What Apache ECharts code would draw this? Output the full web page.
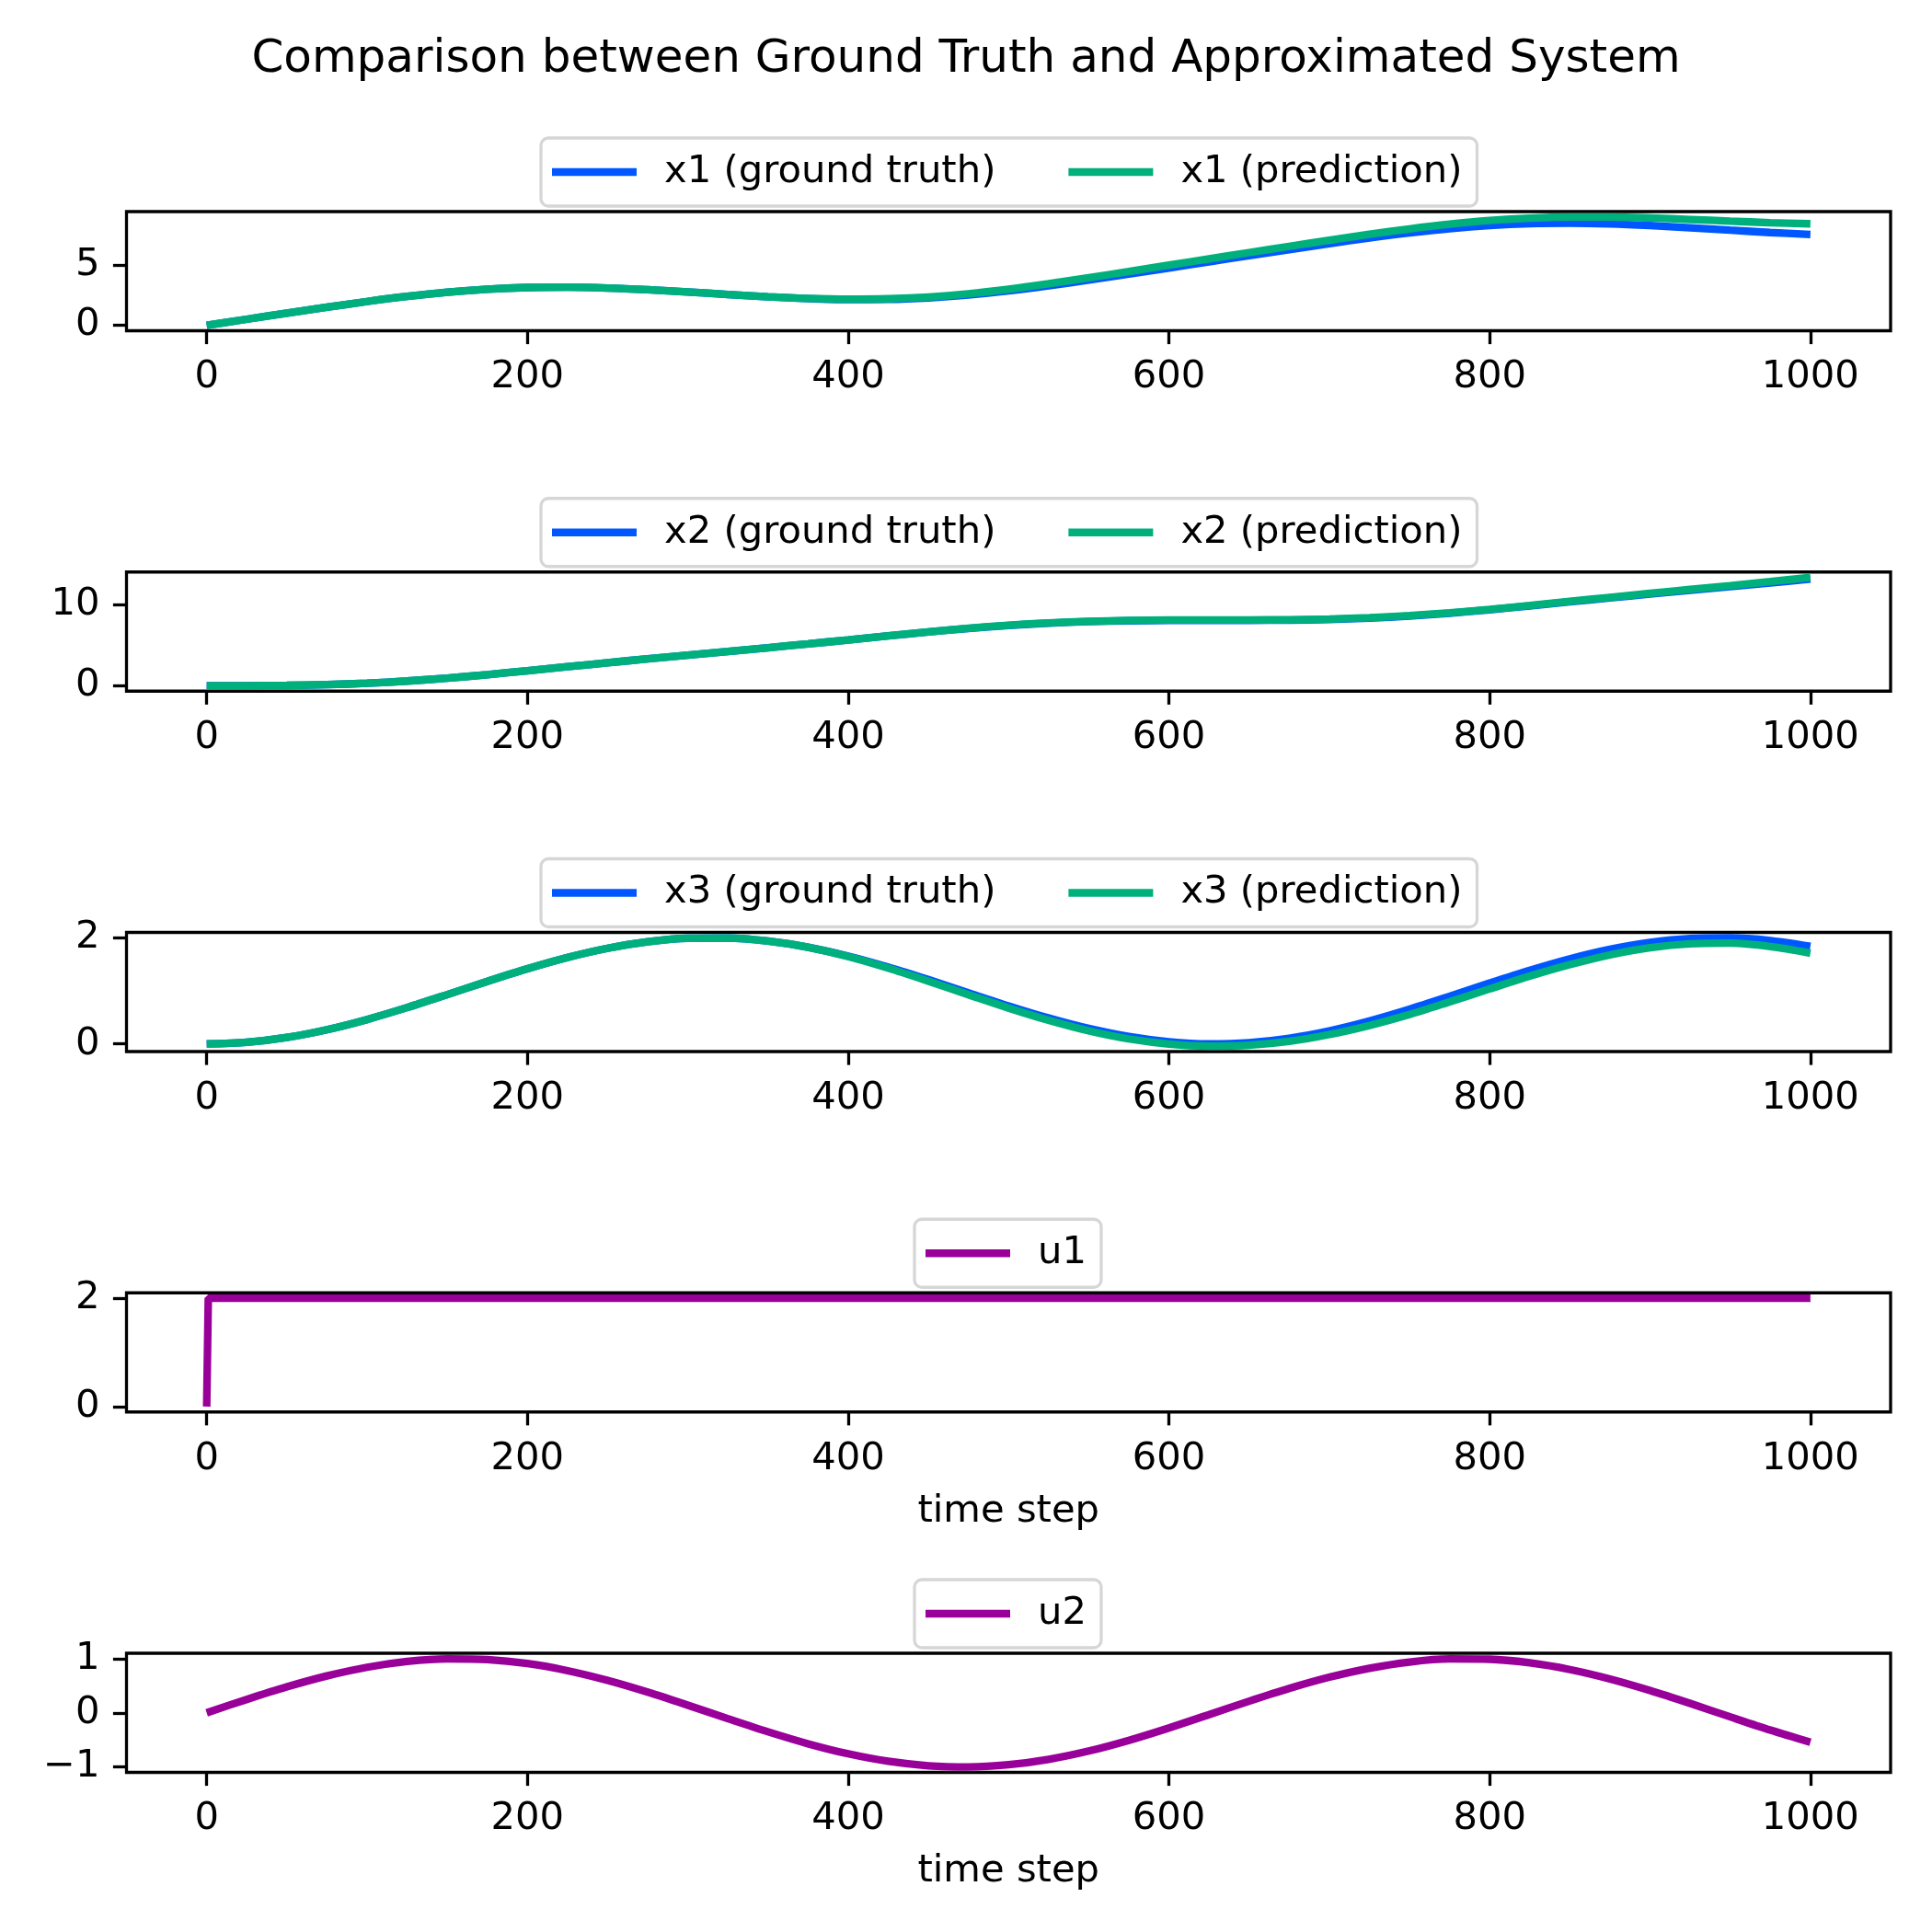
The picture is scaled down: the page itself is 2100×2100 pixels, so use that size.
<!DOCTYPE html>
<html>
<head>
    <meta charset="utf-8">
    <title>Comparison between Ground Truth and Approximated System</title>
    <script src="https://cdn.jsdelivr.net/npm/echarts@6/dist/echarts.min.js"></script>
    <style>
        body { margin: 0; background: #fff; }
    </style>
</head>
<body>
<div id="main" style="width: 2100px;height:2100px;"></div>
<script type="text/javascript">
    // time steps shared by the state curves and u2
    const steps = [0, 25, 50, 75, 100, 125, 150, 175, 200, 225, 250, 275, 300, 325, 350, 375, 400,
        425, 450, 475, 500, 525, 550, 575, 600, 625, 650, 675, 700, 725, 750, 775, 800,
        825, 850, 875, 900, 925, 950, 975, 1000];

    const x1Truth = [0, 0.504, 1.006, 1.500, 1.971, 2.395, 2.744, 2.993, 3.132, 3.158, 3.089,
        2.946, 2.760, 2.557, 2.366, 2.216, 2.135, 2.150, 2.273, 2.511, 2.849,
        3.270, 3.743, 4.241, 4.749, 5.259, 5.769, 6.273, 6.770, 7.237, 7.660,
        8.011, 8.267, 8.416, 8.453, 8.396, 8.263, 8.082, 7.881, 7.688, 7.532];
    const x1Pred = [0, 0.504, 1.006, 1.500, 1.971, 2.395, 2.744, 2.993, 3.132, 3.158, 3.089,
        2.946, 2.760, 2.557, 2.366, 2.226, 2.165, 2.200, 2.343, 2.611, 2.989,
        3.440, 3.943, 4.461, 4.989, 5.509, 6.029, 6.543, 7.050, 7.537, 7.990,
        8.381, 8.687, 8.886, 8.973, 8.971, 8.893, 8.772, 8.631, 8.503, 8.412];

    const x2Truth = [0, 0.005, 0.041, 0.136, 0.312, 0.582, 0.941, 1.375, 1.855, 2.353, 2.848,
        3.325, 3.788, 4.243, 4.704, 5.180, 5.671, 6.171, 6.655, 7.096, 7.467,
        7.748, 7.937, 8.041, 8.084, 8.091, 8.095, 8.125, 8.210, 8.375, 8.631,
        8.980, 9.405, 9.881, 10.379, 10.874, 11.355, 11.818, 12.274, 12.733, 13.206];
    const x2Pred = [0, 0.005, 0.041, 0.136, 0.312, 0.582, 0.941, 1.375, 1.855, 2.353, 2.848,
        3.325, 3.788, 4.243, 4.704, 5.180, 5.671, 6.171, 6.665, 7.111, 7.492,
        7.783, 7.977, 8.086, 8.134, 8.141, 8.145, 8.175, 8.260, 8.425, 8.681,
        9.030, 9.455, 9.936, 10.439, 10.944, 11.435, 11.918, 12.394, 12.893, 13.406];

    const x3Truth = [0, 0.031, 0.122, 0.268, 0.460, 0.685, 0.929, 1.178, 1.416, 1.628, 1.801,
        1.924, 1.990, 1.994, 1.936, 1.821, 1.654, 1.446, 1.211, 0.962, 0.716,
        0.488, 0.291, 0.139, 0.040, 0.000, 0.023, 0.107, 0.246, 0.432, 0.653,
        0.896, 1.146, 1.386, 1.602, 1.781, 1.911, 1.985, 1.997, 1.948, 1.839];
    const x3Pred = [0, 0.031, 0.122, 0.268, 0.460, 0.685, 0.929, 1.178, 1.416, 1.628, 1.801,
        1.924, 1.990, 1.994, 1.936, 1.821, 1.644, 1.426, 1.181, 0.927, 0.676,
        0.445, 0.246, 0.094, -0.003, -0.042, -0.025, 0.047, 0.176, 0.347, 0.553,
        0.791, 1.036, 1.276, 1.492, 1.676, 1.811, 1.885, 1.897, 1.833, 1.709];

    const u1Steps = [0, 1, 1000];
    const u1 = [0, 2, 2];

    const u2 = [0, 0.2474, 0.4794, 0.6816, 0.8415, 0.9490, 0.9975, 0.9840, 0.9093, 0.7781, 0.5985,
        0.3817, 0.1411, -0.1082, -0.3508, -0.5716, -0.7568, -0.8950, -0.9775, -0.9993, -0.9589,
        -0.8589, -0.7055, -0.5083, -0.2794, -0.0332, 0.2151, 0.4500, 0.6570, 0.8231, 0.9380,
        0.9946, 0.9894, 0.9226, 0.7985, 0.6247, 0.4121, 0.1743, -0.0752, -0.3195, -0.5440];

    const xTicks = [0, 200, 400, 600, 800, 1000];
    const yTicks = [[0, 5], [0, 10], [0, 2], [0, 2], [-1, 0, 1]];
    const yLimits = [[-0.449, 9.422], [-0.67, 14.08], [-0.144, 2.10], [-0.1, 2.1], [-1.1, 1.1]];

    const BLUE = '#0057ff';
    const GREEN = '#00b07c';
    const PURPLE = '#990099';
    const FONT = 'DejaVu Sans';
    const FS = 41.7;

    const tops = [230, 621.75, 1013.5, 1405.25, 1797];
    const legendLeft = [588, 588, 588, 994, 994];
    const legendNames = [
        ['x1 (ground truth)', 'x1 (prediction)'],
        ['x2 (ground truth)', 'x2 (prediction)'],
        ['x3 (ground truth)', 'x3 (prediction)'],
        ['u1'],
        ['u2']
    ];

    function pairs(ts, vs) {
        return ts.map(function (t, i) { return [t, vs[i]]; });
    }

    function minus(v) {
        return v < 0 ? '\u2212' + Math.abs(v) : String(v);
    }

    const grids = [], xAxes = [], yAxes = [], legends = [];
    for (let i = 0; i < 5; i++) {
        grids.push({
            left: 137.5, right: 45, top: tops[i], height: 129.5,
            outerBoundsMode: 'none', containLabel: false,
            show: true, borderColor: '#000', borderWidth: 3.3, backgroundColor: 'transparent'
        });
        xAxes.push({
            type: 'value', gridIndex: i, min: -50, max: 1050,
            name: i >= 3 ? 'time step' : '',
            nameLocation: 'middle', nameGap: 87,
            nameTextStyle: {fontSize: FS, color: '#000', fontFamily: FONT},
            axisLine: {show: false, onZero: false},
            axisTick: {customValues: xTicks, length: 14.6, lineStyle: {color: '#000', width: 3.3}},
            axisLabel: {customValues: xTicks, margin: 30, fontSize: FS, color: '#000', fontFamily: FONT,
                formatter: function (v) { return String(v); }},
            splitLine: {show: false}
        });
        yAxes.push({
            type: 'value', gridIndex: i, min: yLimits[i][0], max: yLimits[i][1],
            axisLine: {show: false, onZero: false},
            axisTick: {customValues: yTicks[i], length: 14.6, lineStyle: {color: '#000', width: 3.3}},
            axisLabel: {customValues: yTicks[i], margin: 29, fontSize: FS, color: '#000',
                fontFamily: FONT, formatter: minus, lineHeight: 42, padding: [8, 0, 0, 0]},
            splitLine: {show: false}
        });
        legends.push({
            data: legendNames[i], left: legendLeft[i], top: tops[i] - 80,
            orient: 'horizontal', icon: 'rect', itemWidth: 92, itemHeight: 8.3, itemGap: 79,
            padding: [16, 16, 16, 12], backgroundColor: '#fff',
            borderColor: '#d6d6d6', borderWidth: 3.3, borderRadius: 8,
            selectedMode: false,
            textStyle: {fontSize: FS, color: '#000', fontFamily: FONT, lineHeight: 42, padding: [0, 0, 0, 25]}
        });
    }

    function line(name, idx, data, color, smooth) {
        return {
            type: 'line', name: name, xAxisIndex: idx, yAxisIndex: idx, data: data,
            showSymbol: false, smooth: smooth, silent: true,
            lineStyle: {width: 8.3, color: color}, itemStyle: {color: color}
        };
    }

    const series = [
        line('x1 (ground truth)', 0, pairs(steps, x1Truth), BLUE, 0.3),
        line('x1 (prediction)', 0, pairs(steps, x1Pred), GREEN, 0.3),
        line('x2 (ground truth)', 1, pairs(steps, x2Truth), BLUE, 0.3),
        line('x2 (prediction)', 1, pairs(steps, x2Pred), GREEN, 0.3),
        line('x3 (ground truth)', 2, pairs(steps, x3Truth), BLUE, 0.3),
        line('x3 (prediction)', 2, pairs(steps, x3Pred), GREEN, 0.3),
        line('u1', 3, pairs(u1Steps, u1), PURPLE, false),
        line('u2', 4, pairs(steps, u2), PURPLE, 0.3)
    ];

    const myChart = echarts.init(document.getElementById('main'));
    const option = {
        animation: false,
        backgroundColor: '#fff',
        textStyle: {fontFamily: FONT},
        title: {
            text: 'Comparison between Ground Truth and Approximated System',
            left: 'center', top: 35,
            textStyle: {fontSize: 50, fontWeight: 'normal', color: '#000', fontFamily: FONT}
        },
        legend: legends,
        grid: grids,
        xAxis: xAxes,
        yAxis: yAxes,
        series: series
    };
    myChart.setOption(option);
</script>
</body>
</html>
